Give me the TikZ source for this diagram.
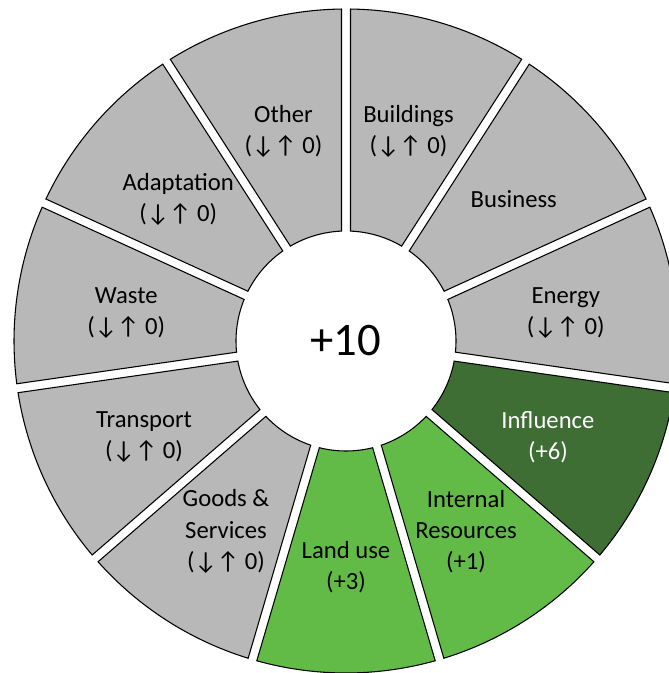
\documentclass[tikz,border=0pt]{standalone}
\usepackage{fontspec}
\setmainfont{Carlito}
\definecolor{segGrey}{HTML}{B8B8B8}
\definecolor{segLight}{HTML}{62BB47}
\definecolor{segDark}{HTML}{3F6E35}
\newcommand{\arrs}{↓↑}
\begin{document}
\begin{tikzpicture}[x=0.75pt,y=0.75pt,
  seg/.style={draw=black, line width=0.8pt},
  lbl/.style={align=center, font=\fontsize{18.5}{23.3}\selectfont, inner sep=0pt, yshift=-2.8pt},
  centrelbl/.style={font=\fontsize{35}{40}\selectfont, inner sep=0pt}]
\useasboundingbox (-346,-332) rectangle (322,341);
\def\R{332}
\def\r{110}
\def\h{4.5}
\pgfmathsetmacro{\dR}{asin(\h/\R)}
\pgfmathsetmacro{\dr}{asin(\h/\r)}
\foreach \i/\fc/\tc/\txt in {
  0/segGrey/black/{Buildings\\(\arrs{} 0)},
  1/segGrey/black/{Business},
  2/segGrey/black/{Energy\\(\arrs{} 0)},
  3/segDark/white/{Influence\\(+6)},
  4/segLight/black/{Internal\\Resources\\(+1)},
  5/segLight/black/{Land use\\(+3)},
  6/segGrey/black/{Goods \&\\Services\\(\arrs{} 0)},
  7/segGrey/black/{Transport\\(\arrs{} 0)},
  8/segGrey/black/{Waste\\(\arrs{} 0)},
  9/segGrey/black/{Adaptation\\(\arrs{} 0)},
  10/segGrey/black/{Other\\(\arrs{} 0)}}
{
  \pgfmathsetmacro{\aone}{90-(\i+1)*360/11}
  \pgfmathsetmacro{\atwo}{90-\i*360/11}
  \pgfmathsetmacro{\amid}{90-(\i+0.5)*360/11}
  \draw[seg, fill=\fc] (\aone+\dR:\R) arc[start angle=\aone+\dR, end angle=\atwo-\dR, radius=\R]
    -- (\atwo-\dr:\r) arc[start angle=\atwo-\dr, end angle=\aone+\dr, radius=\r] -- cycle;
  \node[lbl, text=\tc] (lab\i) at (\amid:222) {\txt};
}
\node[centrelbl] (total) at (0,0) {+10};
\end{tikzpicture}
\end{document}
